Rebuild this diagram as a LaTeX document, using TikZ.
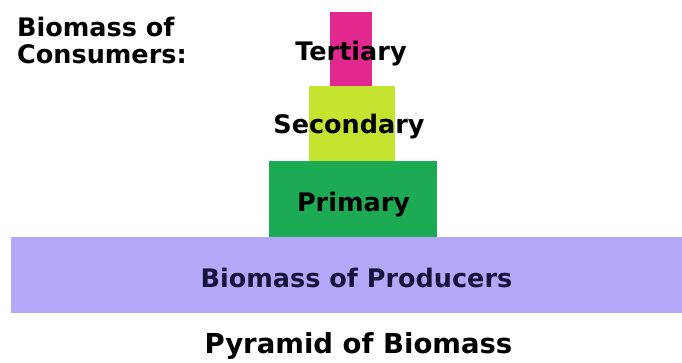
\documentclass[tikz,border=0pt]{standalone}
\usepackage{fontspec}
\setmainfont{DejaVu Sans}
\definecolor{tert}{RGB}{226,40,142}
\definecolor{sec}{RGB}{196,228,48}
\definecolor{prim}{RGB}{28,170,84}
\definecolor{prod}{RGB}{180,168,250}
\definecolor{navy}{RGB}{20,20,60}
\begin{document}
\begin{tikzpicture}[x=1pt,y=-1pt,
  tier/.style={draw=none,inner sep=0pt,anchor=north west},
  lbl/.style={font=\bfseries\fontsize{25.5}{27}\selectfont,inner sep=0pt,anchor=base}]
\useasboundingbox (0,0) rectangle (682,362);
\node[tier,fill=tert,minimum width=42pt,minimum height=74pt] (t) at (330,12) {};
\node[tier,fill=sec,minimum width=86pt,minimum height=75pt] (s) at (309,86) {};
\node[tier,fill=prim,minimum width=168pt,minimum height=76pt] (p) at (269,161) {};
\node[tier,fill=prod,minimum width=671pt,minimum height=76pt] (b) at (11,237) {};
\node[lbl] (tl) at (351,60) {Tertiary};
\node[lbl] (sl) at (349,133) {Secondary};
\node[lbl] (pl) at (353.5,211) {Primary};
\node[lbl,text=navy] (bl) at (356.5,287) {Biomass of Producers};
\node[lbl,font=\bfseries\fontsize{27.5}{29}\selectfont] (title) at (358.5,353) {Pyramid of Biomass};
\node[lbl,anchor=base west] (cons1) at (17,36) {Biomass of};
\node[lbl,anchor=base west] (cons2) at (17,63) {Consumers:};
\end{tikzpicture}
\end{document}
